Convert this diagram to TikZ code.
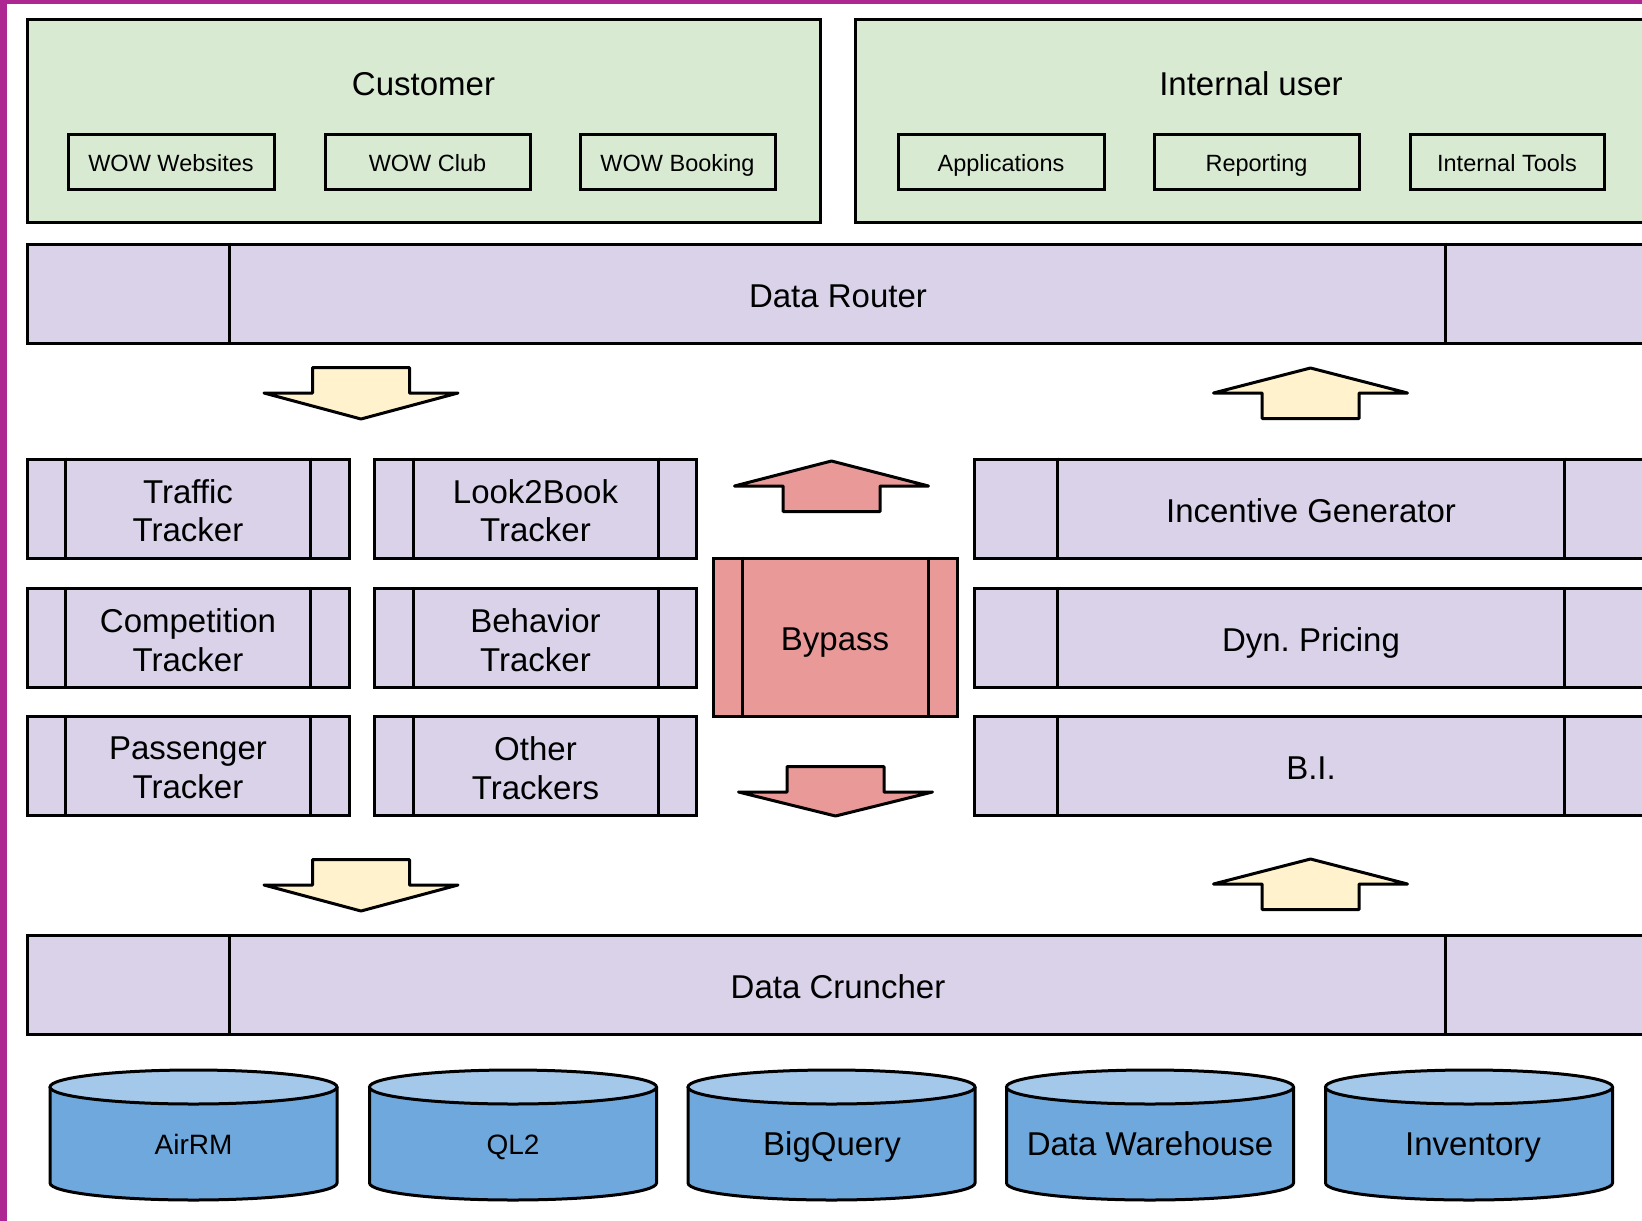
\documentclass[tikz,border=0pt]{standalone}
\usepackage{fontspec}
\setmainfont{Liberation Sans}
\frenchspacing
\definecolor{cmag}{RGB}{174,38,145}
\definecolor{cgreen}{HTML}{D9EAD3}
\definecolor{cpurple}{HTML}{D9D2E9}
\definecolor{cred}{HTML}{EA9999}
\definecolor{cyellow}{HTML}{FFF2CC}
\definecolor{cblue}{HTML}{6FA8DC}
\definecolor{cbluelt}{HTML}{A4C8EA}
\newcommand\dbcyl[5]{%
  \fill[cblue] (#2-143.5,1087) -- (#2-143.5,1183) arc[start angle=180,end angle=0,x radius=143.5,y radius=17] -- (#2+143.5,1087) -- cycle;
  \draw[ln] (#2-143.5,1087) -- (#2-143.5,1183) arc[start angle=180,end angle=0,x radius=143.5,y radius=17] -- (#2+143.5,1087);
  \filldraw[ln,fill=cbluelt] (#2,1087) ellipse[x radius=143.5,y radius=17];
  \node[#3] (#1) at (#5,1144) {#4};}
\newcommand\downarr[5]{%
  \draw[#1] (#2-48.5,#3) -- (#2+48.5,#3) -- (#2+48.5,#4) -- (#2+97,#4) -- (#2,#5) -- (#2-97,#4) -- (#2-48.5,#4) -- cycle;}
\newcommand\uparr[5]{%
  \draw[#1] (#2-48.5,#3) -- (#2+48.5,#3) -- (#2+48.5,#4) -- (#2+97,#4) -- (#2,#5) -- (#2-97,#4) -- (#2-48.5,#4) -- cycle;}
\tikzset{
  ln/.style={draw=black,line width=3pt},
  box/.style={ln,inner sep=0pt},
  gbox/.style={box,fill=cgreen},
  pbox/.style={box,fill=cpurple},
  rbox/.style={box,fill=cred},
  bigf/.style={font=\fontsize{33}{38.5}\selectfont},
  midf/.style={font=\fontsize{28}{33}\selectfont},
  smallf/.style={font=\fontsize{23.5}{27}\selectfont},
  capbig/.style={bigf,text height=27.6pt,text depth=0pt},
  capmid/.style={midf,text height=20pt,text depth=0pt,inner sep=0pt},
  capsmall/.style={smallf,text height=20.8pt,text depth=0pt},
  titletext/.style={bigf,text height=23.6pt,text depth=0pt,inner sep=0pt},
  appbox/.style={box,capsmall,minimum height=55pt},
  wide/.style={pbox,capbig,minimum width=1622pt,minimum height=99pt},
  trk/.style={pbox,minimum width=322pt,minimum height=99pt},
  trktext/.style={bigf,align=center,inner sep=0pt},
  side/.style={pbox,capbig,minimum width=674pt,minimum height=99pt},
  yarrow/.style={ln,fill=cyellow,line join=round},
  rarrow/.style={ln,fill=cred,line join=round},
  cyltext/.style={bigf,text height=23.6pt,text depth=0pt,inner sep=0pt},
}
\begin{document}
\begin{tikzpicture}[x=1pt,y=-1pt]
\useasboundingbox (0,0) rectangle (1642,1221);
\clip (0,0) rectangle (1642,1221);
\fill[white] (0,0) rectangle (1642,1221);
\fill[cmag] (0,0) rectangle (7,1221);
\fill[cmag] (0,0) rectangle (1642,3.5);

% top groups
\node[gbox,minimum width=793pt,minimum height=203pt] (cust) at (423.5,121) {};
\node[titletext] (custt) at (423.5,84) {Customer};
\node[appbox,minimum width=206pt] (wowweb) at (171,161.5) {WOW Websites};
\node[appbox,minimum width=205pt] (wowclub) at (427.5,161.5) {WOW Club};
\node[appbox,minimum width=195pt] (wowbook) at (677.5,161.5) {WOW Booking};

\node[gbox,minimum width=793pt,minimum height=203pt] (intu) at (1251.5,121) {};
\node[titletext] (intut) at (1251,84) {Internal user};
\node[appbox,minimum width=206pt] (apps) at (1001,161.5) {Applications};
\node[appbox,minimum width=205pt] (report) at (1256.5,161.5) {Reporting};
\node[appbox,minimum width=194pt] (tools) at (1507,161.5) {Internal Tools};

% data router
\node[wide] (router) at (838,293.5) {Data Router};
\draw[ln] (router.north west -| 229,0) -- (router.south west -| 229,0);
\draw[ln] (router.north west -| 1445,0) -- (router.south west -| 1445,0);

% arrows between router and middle
\downarr{yarrow}{361}{367.5}{393}{419}
\uparr{yarrow}{1310.5}{418.5}{393}{368}

% trackers
\node[trk] (traffic) at (188,508.5) {};
\node[trk] (look) at (535.5,508.5) {};
\node[trk] (comp) at (188,638) {};
\node[trk] (behav) at (535.5,638) {};
\node[trk] (pass) at (188,766) {};
\node[trk] (other) at (535.5,766) {};
\foreach \n in {traffic,look,comp,behav,pass,other}{
  \draw[ln] ([xshift=40pt]\n.north west) -- ([xshift=40pt]\n.south west);
  \draw[ln] ([xshift=-40pt]\n.north east) -- ([xshift=-40pt]\n.south east);
}
\node[trktext] (traffict) at ([yshift=-2pt]traffic.center) {Traffic\\Tracker};
\node[trktext] (lookt) at ([yshift=-2pt]look.center) {Look2Book\\Tracker};
\node[trktext] (compt) at ([yshift=-2pt]comp.center) {Competition\\Tracker};
\node[trktext] (behavt) at ([yshift=-2pt]behav.center) {Behavior\\Tracker};
\node[trktext] (passt) at ([yshift=-2pt]pass.center) {Passenger\\Tracker};
\node[trktext] (othert) at ([yshift=-2pt]other.center) {Other\\Trackers};

% bypass
\node[rbox,capbig,minimum width=244pt,minimum height=158pt] (bypass) at (835,637) {Bypass};
\draw[ln] ([xshift=31pt]bypass.north west) -- ([xshift=31pt]bypass.south west);
\draw[ln] ([xshift=-30pt]bypass.north east) -- ([xshift=-30pt]bypass.south east);
\uparr{rarrow}{831.5}{511.5}{486}{461}
\downarr{rarrow}{835.5}{766.5}{792}{816}

% right column
\node[side] (incent) at (1311,508.5) {Incentive Generator};
\node[side] (pricing) at (1311,638) {Dyn. Pricing};
\node[side] (bi) at (1311,766) {B.I.};
\foreach \n in {incent,pricing,bi}{
  \draw[ln] ([xshift=85pt]\n.north west) -- ([xshift=85pt]\n.south west);
  \draw[ln] ([xshift=-85pt]\n.north east) -- ([xshift=-85pt]\n.south east);
}

% arrows between middle and cruncher
\downarr{yarrow}{361}{859.5}{885}{911}
\uparr{yarrow}{1310.5}{909.5}{884}{859}

% data cruncher
\node[wide] (cruncher) at (838,985) {Data Cruncher};
\draw[ln] (cruncher.north west -| 229,0) -- (cruncher.south west -| 229,0);
\draw[ln] (cruncher.north west -| 1445,0) -- (cruncher.south west -| 1445,0);

% databases
\dbcyl{airrm}{193.5}{capmid}{AirRM}{193.5}
\dbcyl{ql2}{513}{capmid}{QL2}{513}
\dbcyl{bigq}{831.5}{cyltext}{BigQuery}{832}
\dbcyl{dwh}{1150}{cyltext}{Data Warehouse}{1150}
\dbcyl{inv}{1469}{cyltext}{Inventory}{1473}
\end{tikzpicture}
\end{document}
